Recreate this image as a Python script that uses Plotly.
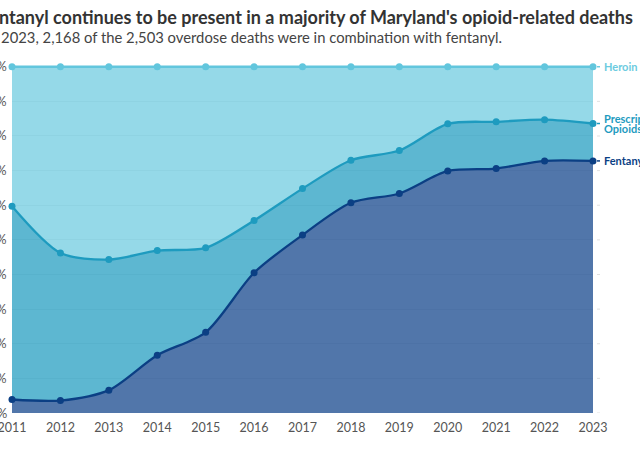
import plotly.graph_objects as go

years = list(range(2011, 2024))
# stacked shares (percent)
fentanyl = [3.9, 3.6, 6.6, 16.7, 23.3, 40.5, 51.4, 60.7, 63.4, 69.9, 70.6, 72.8, 72.8]
prescription_top = [59.7, 46.2, 44.3, 46.9, 47.7, 55.6, 64.8, 73.0, 75.8, 83.5, 84.1, 84.7, 83.6]
heroin_top = [100] * 13
prescription = [round(p - f, 1) for p, f in zip(prescription_top, fentanyl)]
heroin = [round(h - p, 1) for h, p in zip(heroin_top, prescription_top)]
y_ticks = [0, 10, 20, 30, 40, 50, 60, 70, 80, 90, 100]
y_tick_labels = [f"{t}%" for t in y_ticks]

series = [
    ("Fentanyl", fentanyl, "#0b3f84", "rgba(20,70,140,0.74)"),
    ("Prescription Opioids", prescription, "#1e9bbf", "rgba(30,155,191,0.72)"),
    ("Heroin", heroin, "#62c6dd", "rgba(92,196,220,0.65)"),
]

fig = go.Figure()
for name, vals, lc, fc in series:
    fig.add_trace(go.Scatter(
        x=years, y=vals, name=name, stackgroup="one", mode="lines+markers",
        line=dict(color=lc, width=2.3, shape="spline", smoothing=0.8),
        marker=dict(color=lc, size=7), fillcolor=fc, cliponaxis=False,
        hoverinfo="x+y+name",
    ))

fig.update_layout(
    width=640, height=450,
    margin=dict(l=12, r=47, t=65.3, b=36.5, autoexpand=False),
    paper_bgcolor="white", plot_bgcolor="white",
    showlegend=False,
    font=dict(family="Lato, Open Sans, sans-serif", color="#555"),
    xaxis=dict(range=[2011, 2023], tickvals=years, showgrid=False, zeroline=False,
               tickfont=dict(size=12.5, color="#555"), ticks="outside", ticklen=3,
               tickcolor="rgba(0,0,0,0)", showline=False,
               automargin=False, ticklabeloverflow="allow"),
    yaxis=dict(range=[0, 100.5], tickvals=y_ticks, showticklabels=False,
               showgrid=True, gridcolor="rgba(0,0,0,0.07)", gridwidth=1,
               zeroline=False, ticks="", automargin=False),
)

# y tick labels (placed on the y scale, partly cut off at the left edge as in original)
for t, lab in zip(y_ticks, y_tick_labels):
    fig.add_annotation(xref="paper", yref="y", x=0, y=t, xshift=-3, xanchor="right",
                       yanchor="middle", showarrow=False, text=lab,
                       font=dict(size=12.5, color="#555"))

# title & subtitle (left part cut off as in original)
fig.add_annotation(xref="paper", yref="paper", x=0, y=1, xshift=-34, yshift=48,
                   xanchor="left", yanchor="middle", showarrow=False,
                   text="<b>Fentanyl continues to be present in a majority of Maryland's opioid-related deaths</b>",
                   font=dict(size=18, color="#333", family="Lato, Open Sans, sans-serif"))
fig.add_annotation(xref="paper", yref="paper", x=0, y=1, xshift=-29, yshift=28,
                   xanchor="left", yanchor="middle", showarrow=False,
                   text="In 2023, 2,168 of the 2,503 overdose deaths were in combination with fentanyl.",
                   font=dict(size=14.8, color="#444", family="Lato, Open Sans, sans-serif"))

# small grid ticks beyond the right edge
for t in y_ticks[:-1]:
    fig.add_shape(type="line", xref="paper", yref="y", xsizemode="pixel", xanchor=1,
                  x0=4, x1=7, y0=t, y1=t, line=dict(color="rgba(0,0,0,0.12)", width=1))

# right-side labels
label_pos = [(["Heroin"], heroin_top[-1], "#6ccbe0"),
             (["Prescription", "Opioids"], prescription_top[-1], "#1e9bbf"),
             (["Fentanyl"], fentanyl[-1], "#0b3f84")]
for lines, yv, col in label_pos:
    fig.add_shape(type="line", xref="paper", yref="y", xsizemode="pixel", xanchor=1,
                  x0=4, x1=7, y0=yv, y1=yv, line=dict(color=col, width=1.5))
    n = len(lines)
    for i, txt in enumerate(lines):
        fig.add_annotation(xref="paper", yref="y", x=1, y=yv, xshift=9,
                           yshift=(n - 1) * 5 - i * 10, xanchor="left",
                           yanchor="middle", showarrow=False, align="left", text=f"<b>{txt}</b>",
                           font=dict(size=11, color=col, family="Lato, Open Sans, sans-serif"))

fig.write_html("out.html", config={"displayModeBar": False},
               post_script="document.body.style.margin='0';document.body.style.overflow='hidden';")
